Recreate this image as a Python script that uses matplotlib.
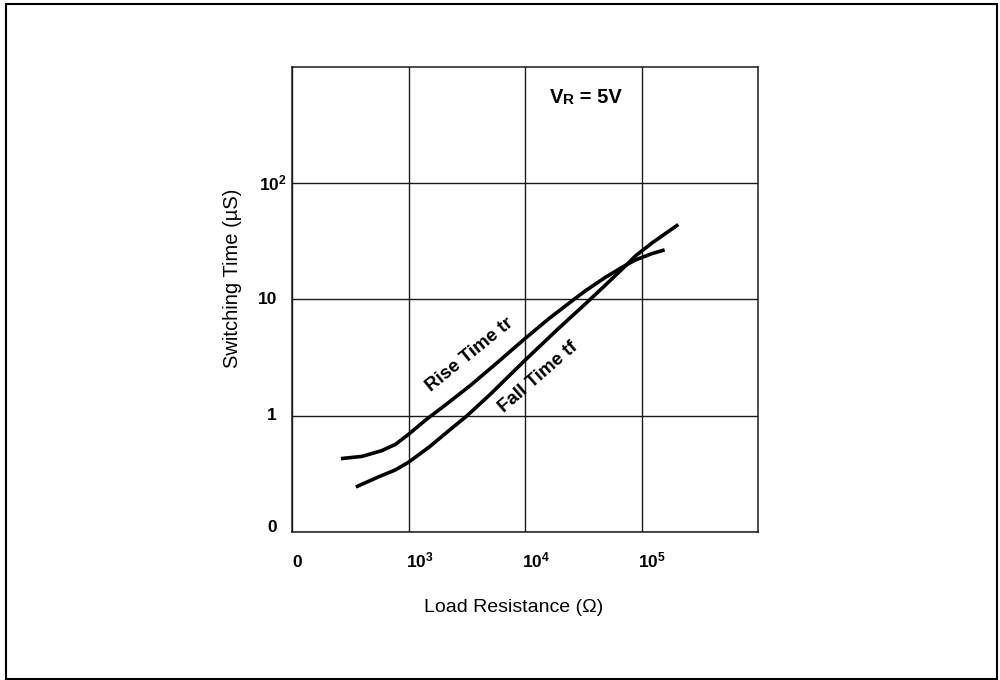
import matplotlib.pyplot as plt
from matplotlib.patches import Rectangle
from matplotlib.ticker import NullLocator

plt.rcParams['font.family'] = ['Liberation Sans', 'DejaVu Sans']
plt.rcParams['mathtext.fontset'] = 'custom'
plt.rcParams['mathtext.rm'] = 'Liberation Sans:bold'
plt.rcParams['mathtext.it'] = 'Liberation Sans:bold'
plt.rcParams['mathtext.bf'] = 'Liberation Sans:bold'

# values (ohm, microseconds)
rise_r = [263, 398, 589, 776, 1000, 1410, 2090, 3390, 5750, 9770, 15800, 25100,
          33100, 49000, 69200, 89100, 123000, 158000]
rise_t = [0.428, 0.447, 0.501, 0.569, 0.692, 0.923, 1.245, 1.82, 2.85, 4.52, 6.76, 9.66,
          11.9, 15.5, 19.1, 21.9, 24.8, 26.7]
fall_r = [353, 557, 771, 1000, 1500, 2240, 3140, 5040, 9860, 19200, 32800, 49000,
          68400, 89300, 124000, 207000]
fall_t = [0.244, 0.299, 0.342, 0.398, 0.537, 0.750, 0.989, 1.53, 2.96, 5.58, 9.12, 13.3,
          18.3, 23.8, 30.8, 44.1]

x_ticks = [1e2, 1e3, 1e4, 1e5]
x_labels = ['0', '10$^{3}$', '10$^{4}$', '10$^{5}$']
y_ticks = [0.1, 1, 10, 100]
y_labels = ['0', '1', '10', '10$^{2}$']

fig = plt.figure(figsize=(10, 6.8), dpi=100)
fig.patches.append(Rectangle((0.006, 0.0015), 0.991, 0.9925, transform=fig.transFigure,
                             fill=False, lw=1.5, ec='black'))

ax = fig.add_axes([0.292, 0.2176, 0.466, 0.684])
ax.set_xscale('log')
ax.set_yscale('log')
ax.set_xlim(1e2, 1e6)
ax.set_ylim(0.1, 1000)
ax.set_xticks(x_ticks)
ax.set_yticks(y_ticks)
ax.xaxis.set_minor_locator(NullLocator())
ax.yaxis.set_minor_locator(NullLocator())
ax.tick_params(length=0, labelbottom=False, labelleft=False)
ax.grid(True, which='major', color='#1a1a1a', lw=1.0)
for s in ax.spines.values():
    s.set_linewidth(1.1)
    s.set_color('#1a1a1a')

ax.plot(rise_r, rise_t, color='black', lw=2.6, solid_capstyle='butt', solid_joinstyle='round')
ax.plot(fall_r, fall_t, color='black', lw=2.6, solid_capstyle='butt', solid_joinstyle='round')

# tick labels
for v, lab in zip(x_ticks, x_labels):
    if lab == '0':
        ax.annotate(lab, xy=(v, 0), xycoords=('data', 'axes fraction'), xytext=(5, -35),
                    textcoords='offset pixels', ha='center', va='baseline',
                    fontsize=12.5, fontweight='bold')
    else:
        ax.annotate(lab, xy=(v, 0), xycoords=('data', 'axes fraction'), xytext=(-3, -35),
                    textcoords='offset pixels', ha='left', va='baseline',
                    fontsize=12.5, fontweight='bold')
for v, lab in zip(y_ticks, y_labels):
    dx = -5 if '^' in lab else -15
    dy = 5 if v == y_ticks[0] else 0
    ax.annotate(lab, xy=(0, v), xycoords=('axes fraction', 'data'), xytext=(dx, dy),
                textcoords='offset pixels', ha='right', va='center',
                fontsize=12.5, fontweight='bold')

fig.text(0.232, 1 - 278 / 680, 'Switching Time (µS)', rotation=90, ha='center', va='center',
         fontsize=14.5)
fig.text(0.514, 1 - 608 / 680, 'Load Resistance (Ω)', ha='center', va='center', fontsize=14)

# curve names
ax.text(3370, 3.33, 'Rise Time tr', rotation=39, ha='center', va='center',
        fontsize=13.5, fontweight='bold')
ax.text(12900, 2.15, 'Fall Time tf', rotation=41, ha='center', va='center',
        fontsize=13.5, fontweight='bold')

# VR = 5V
t1 = ax.text(0.5536, 0.9226, 'V', transform=ax.transAxes, ha='left', va='baseline',
             fontsize=14.5, fontweight='bold')
t2 = ax.annotate('R', xy=(1, 0), xycoords=t1, ha='left', va='bottom',
                 fontsize=11, fontweight='bold')
ax.annotate(' = 5V', xy=(1, 0), xycoords=t2, ha='left', va='bottom',
            fontsize=14.5, fontweight='bold')

fig.savefig('out.png', dpi=100)
